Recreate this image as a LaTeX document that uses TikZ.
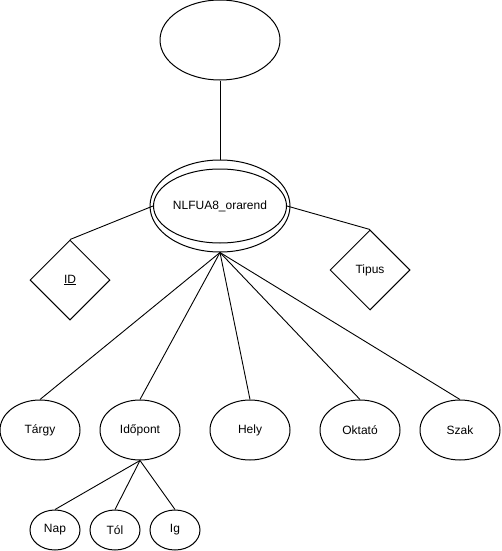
\documentclass[tikz,border=0pt]{standalone}
\usepackage{fontspec}
\setmainfont{Liberation Sans}
\usetikzlibrary{shapes.geometric}
\begin{document}
\begin{tikzpicture}[x=1pt,y=-1pt,line width=1pt,
  ent/.style={ellipse,draw,inner sep=0pt,font=\fontsize{12}{14}\selectfont},
  rel/.style={diamond,draw,inner sep=0pt,minimum width=80pt,minimum height=80pt,font=\fontsize{12}{14}\selectfont},
  link/.style={draw,line width=0.9pt}]
\useasboundingbox (0,0) rectangle (501,551);
\node[ent,minimum width=120pt,minimum height=80pt] (top) at (220,40) {};
\node[ent,minimum width=140pt,minimum height=92pt] (outer) at (220,206) {};
\node[ent,minimum width=120pt,minimum height=74pt] (main) at (220,206) {NLFUA8\_orarend};
\node[rel] (id) at (70,280) {\underline{ID}};
\node[rel] (tipus) at (370,270) {Tipus};
\node[ent,minimum width=80pt,minimum height=60pt] (targy) at (40,430) {Tárgy};
\node[ent,minimum width=80pt,minimum height=60pt] (idopont) at (140,430) {Időpont};
\node[ent,minimum width=80pt,minimum height=60pt] (hely) at (250,430) {Hely};
\node[ent,minimum width=80pt,minimum height=60pt] (oktato) at (360,430) {Oktató};
\node[ent,minimum width=80pt,minimum height=60pt] (szak) at (460,430) {Szak};
\node[ent,minimum width=50pt,minimum height=40pt] (nap) at (55,530) {Nap};
\node[ent,minimum width=50pt,minimum height=40pt] (tol) at (115,530) {Tól};
\node[ent,minimum width=50pt,minimum height=40pt] (ig) at (175,530) {Ig};
\draw[link] (top.south) -- (outer.north);
\draw[link] (id.north) -- (main.west);
\draw[link] (tipus.north) -- (main.east);
\draw[link] (outer.south) -- (targy.north);
\draw[link] (outer.south) -- (idopont.north);
\draw[link] (outer.south) -- (hely.north);
\draw[link] (outer.south) -- (oktato.north);
\draw[link] (outer.south) -- (szak.north);
\draw[link] (idopont.south) -- (nap.north);
\draw[link] (idopont.south) -- (tol.north);
\draw[link] (idopont.south) -- (ig.north);
\end{tikzpicture}
\end{document}
